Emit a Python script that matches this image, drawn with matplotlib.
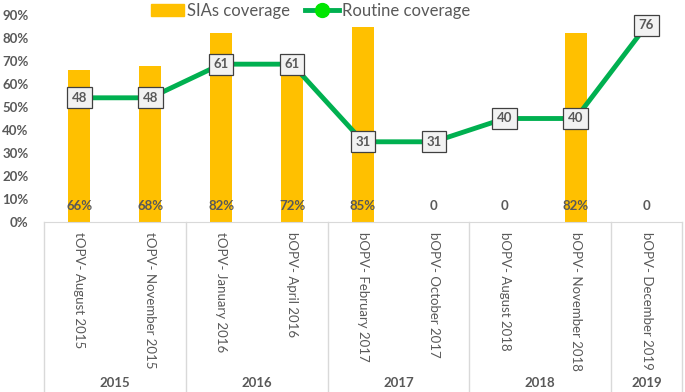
import matplotlib.pyplot as plt
import matplotlib.transforms as mtransforms
from matplotlib.patches import Patch
from matplotlib.lines import Line2D

plt.rcParams['font.family'] = ['Lato', 'DejaVu Sans']

# 数据
活动 = ['tOPV- August 2015', 'tOPV- November 2015', 'tOPV- January 2016',
      'bOPV- April 2016', 'bOPV- February 2017', 'bOPV- October 2017',
      'bOPV- August 2018', 'bOPV- November 2018', 'bOPV- December 2019']
SIAs覆盖率 = [66, 68, 82, 72, 85, 0, 0, 82, 0]
常规覆盖率 = [48, 48, 61, 61, 31, 31, 40, 40, 76]
年份 = ['2015', '2016', '2017', '2018', '2019']
年份分组 = [2, 2, 2, 2, 1]

灰 = '#595959'
x = list(range(len(活动)))

fig = plt.figure(figsize=(6.85, 3.92), dpi=100)
ax = fig.add_axes([44 / 685, 170 / 392, 638 / 685, 207 / 392])

# 柱状图
ax.bar(x, [v / 100 for v in SIAs覆盖率], width=0.31, color='#FFC000', zorder=2)
for i, v in enumerate(SIAs覆盖率):
    txt = f'{v}%' if v > 0 else '0'
    ax.text(i, 0.068, txt, ha='center', va='center', fontsize=9.5,
            fontweight='bold', color=灰, zorder=3)

ax.set_xlim(-0.5, len(活动) - 0.5)
ax.set_ylim(0, 0.9)
ax.set_yticks([i / 10 for i in range(10)])
ax.set_yticklabels([f'{i * 10}%' for i in range(10)], fontsize=9.5,
                   fontweight='bold', color=灰)
ax.tick_params(axis='y', length=0, pad=11)
ax.tick_params(axis='x', length=0, labelbottom=False)
for s in ['top', 'right', 'left']:
    ax.spines[s].set_visible(False)
ax.spines['bottom'].set_color('#D9D9D9')

# 折线（次坐标轴）
ax2 = ax.twinx()
ax2.set_ylim(0, 80)
ax2.axis('off')
ax2.plot(x, 常规覆盖率, color='#00B050', lw=3.5, zorder=3)
for i, v in enumerate(常规覆盖率):
    ax2.text(i, v, str(v), ha='center', va='center', fontsize=9.5,
             fontweight='bold', color=灰, zorder=4,
             bbox=dict(boxstyle='square,pad=0.35', fc='#F2F2F2', ec='#404040', lw=0.9))

# 分类标签
for i, lab in enumerate(活动):
    ax.text(i, -0.045, lab, rotation=270, ha='center', va='top', fontsize=9.5,
            color=灰, clip_on=False)

# 年份分隔线和标签
trans = mtransforms.blended_transform_factory(ax.transData, ax.transAxes)
start = -0.5
ax.plot([start, start], [0, -0.82], transform=trans, color='#D9D9D9', lw=1, clip_on=False)
for y, n in zip(年份, 年份分组):
    end = start + n
    ax.plot([end, end], [0, -0.82], transform=trans, color='#D9D9D9', lw=1, clip_on=False)
    ax.text((start + end) / 2, -0.78, y, transform=trans, ha='center', va='center',
            fontsize=9.5, fontweight='bold', color=灰)
    start = end

# 图例
handles = [Patch(color='#FFC000'),
           Line2D([0], [0], color='#00B050', lw=3.5, marker='o', markersize=10,
                  markerfacecolor='#00E600', markeredgecolor='#00E600')]
fig.legend(handles, ['SIAs coverage', 'Routine coverage'], loc='center',
           bbox_to_anchor=(0.453, 0.972), ncol=2, frameon=False, fontsize=12,
           labelcolor=灰, handlelength=2.0, handletextpad=0.2, columnspacing=0.9)

fig.savefig('out.png', dpi=100)
